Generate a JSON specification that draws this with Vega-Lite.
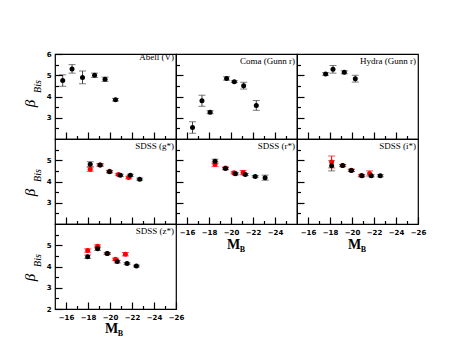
{
"$schema": "https://vega.github.io/schema/vega-lite/v6.json",
"padding": {"left": 21, "top": 49, "right": 0, "bottom": 0},
"background": "white",
"spacing": 0,
"columns": 3,
"bounds": "flush",
"datasets": {"d": [
{"p":"A","s":"k","x":-15.7,"y":4.75,"lo":4.48,"hi":5.02},
{"p":"A","s":"k","x":-16.55,"y":5.3,"lo":5.1,"hi":5.5},
{"p":"A","s":"k","x":-17.5,"y":4.9,"lo":4.6,"hi":5.2},
{"p":"A","s":"k","x":-18.6,"y":5.0,"lo":4.9,"hi":5.1},
{"p":"A","s":"k","x":-19.55,"y":4.81,"lo":4.71,"hi":4.91},
{"p":"A","s":"k","x":-20.5,"y":3.85,"lo":3.79,"hi":3.91},
{"p":"C","s":"k","x":-16.5,"y":2.54,"lo":2.27,"hi":2.81},
{"p":"C","s":"k","x":-17.36,"y":3.8,"lo":3.54,"hi":4.06},
{"p":"C","s":"k","x":-18.1,"y":3.26,"lo":3.19,"hi":3.33},
{"p":"C","s":"k","x":-19.6,"y":4.85,"lo":4.77,"hi":4.93},
{"p":"C","s":"k","x":-20.3,"y":4.7,"lo":4.66,"hi":4.74},
{"p":"C","s":"k","x":-21.15,"y":4.51,"lo":4.35,"hi":4.67},
{"p":"C","s":"k","x":-22.3,"y":3.58,"lo":3.35,"hi":3.81},
{"p":"H","s":"k","x":-17.6,"y":5.06,"lo":5.0,"hi":5.12},
{"p":"H","s":"k","x":-18.27,"y":5.28,"lo":5.1,"hi":5.46},
{"p":"H","s":"k","x":-19.3,"y":5.14,"lo":5.07,"hi":5.21},
{"p":"H","s":"k","x":-20.3,"y":4.84,"lo":4.68,"hi":5.0},
{"p":"G","s":"r","x":-18.2,"y":4.58,"lo":4.48,"hi":4.68},
{"p":"G","s":"r","x":-19.1,"y":4.78,"lo":4.73,"hi":4.83},
{"p":"G","s":"r","x":-19.96,"y":4.48,"lo":4.44,"hi":4.52},
{"p":"G","s":"r","x":-20.76,"y":4.33,"lo":4.29,"hi":4.37},
{"p":"G","s":"r","x":-21.7,"y":4.19,"lo":4.13,"hi":4.25},
{"p":"G","s":"k","x":-18.2,"y":4.81,"lo":4.69,"hi":4.93},
{"p":"G","s":"k","x":-19.1,"y":4.78,"lo":4.72,"hi":4.84},
{"p":"G","s":"k","x":-19.96,"y":4.46,"lo":4.41,"hi":4.51},
{"p":"G","s":"k","x":-20.94,"y":4.29,"lo":4.24,"hi":4.34},
{"p":"G","s":"k","x":-21.85,"y":4.29,"lo":4.24,"hi":4.34},
{"p":"G","s":"k","x":-22.7,"y":4.11,"lo":4.06,"hi":4.16},
{"p":"R","s":"r","x":-18.55,"y":4.81,"lo":4.7,"hi":4.92},
{"p":"R","s":"r","x":-19.5,"y":4.63,"lo":4.58,"hi":4.68},
{"p":"R","s":"r","x":-20.27,"y":4.41,"lo":4.36,"hi":4.46},
{"p":"R","s":"r","x":-21.1,"y":4.42,"lo":4.32,"hi":4.52},
{"p":"R","s":"k","x":-18.55,"y":4.95,"lo":4.85,"hi":5.05},
{"p":"R","s":"k","x":-19.5,"y":4.61,"lo":4.56,"hi":4.66},
{"p":"R","s":"k","x":-20.4,"y":4.36,"lo":4.31,"hi":4.41},
{"p":"R","s":"k","x":-21.3,"y":4.33,"lo":4.28,"hi":4.38},
{"p":"R","s":"k","x":-22.2,"y":4.24,"lo":4.2,"hi":4.28},
{"p":"R","s":"k","x":-23.1,"y":4.18,"lo":4.06,"hi":4.3},
{"p":"I","s":"r","x":-18.15,"y":4.92,"lo":4.64,"hi":5.2},
{"p":"I","s":"r","x":-19.15,"y":4.75,"lo":4.71,"hi":4.79},
{"p":"I","s":"r","x":-19.94,"y":4.53,"lo":4.48,"hi":4.58},
{"p":"I","s":"r","x":-20.85,"y":4.28,"lo":4.24,"hi":4.32},
{"p":"I","s":"r","x":-21.6,"y":4.38,"lo":4.26,"hi":4.5},
{"p":"I","s":"k","x":-18.15,"y":4.74,"lo":4.5,"hi":4.98},
{"p":"I","s":"k","x":-19.15,"y":4.75,"lo":4.7,"hi":4.8},
{"p":"I","s":"k","x":-19.94,"y":4.52,"lo":4.47,"hi":4.57},
{"p":"I","s":"k","x":-20.9,"y":4.27,"lo":4.22,"hi":4.32},
{"p":"I","s":"k","x":-21.75,"y":4.27,"lo":4.22,"hi":4.32},
{"p":"I","s":"k","x":-22.57,"y":4.27,"lo":4.22,"hi":4.32},
{"p":"Z","s":"r","x":-17.97,"y":4.75,"lo":4.67,"hi":4.83},
{"p":"Z","s":"r","x":-18.87,"y":4.95,"lo":4.88,"hi":5.02},
{"p":"Z","s":"r","x":-19.75,"y":4.61,"lo":4.57,"hi":4.65},
{"p":"Z","s":"r","x":-20.5,"y":4.34,"lo":4.29,"hi":4.39},
{"p":"Z","s":"r","x":-21.4,"y":4.58,"lo":4.5,"hi":4.66},
{"p":"Z","s":"k","x":-17.97,"y":4.46,"lo":4.38,"hi":4.54},
{"p":"Z","s":"k","x":-18.87,"y":4.84,"lo":4.76,"hi":4.92},
{"p":"Z","s":"k","x":-19.75,"y":4.61,"lo":4.57,"hi":4.65},
{"p":"Z","s":"k","x":-20.66,"y":4.23,"lo":4.17,"hi":4.29},
{"p":"Z","s":"k","x":-21.55,"y":4.14,"lo":4.1,"hi":4.18},
{"p":"Z","s":"k","x":-22.4,"y":4.02,"lo":3.98,"hi":4.06}
]},
"config": {
 "view": {"stroke": "black", "strokeWidth": 1.2},
 "axis": {"domain": false, "grid": false, "tickOpacity": 1, "labelFont": "DejaVu Sans", "labelFontWeight": "bold", "labelFontSize": 7, "labelColor": "black", "labelFlush": false, "labelOverlap": false, "titleColor": "black", "format": "d"},
 "title": {"anchor": "end", "frame": "group", "offset": -12, "baseline": "alphabetic", "font": "Liberation Serif", "fontSize": 9, "fontWeight": "normal", "color": "black", "dx": -2}
},
"concat": [
{
 "width": 121, "height": 85, "title": "Abell (V)",
 "data": {"name": "d"}, "transform": [{"filter": "datum.p=='A'"}],
 "layer": [
  {"mark": {"type": "rule", "strokeWidth": 1}, "encoding": {
    "x": {"field": "x", "type": "quantitative", "scale": {"domain": [-15, -26]}, "axis": null},
    "y": {"field": "lo", "type": "quantitative", "scale": {"domain": [2, 6]}, "axis": {"orient": "left", "offset": 0, "labels": false, "ticks": false, "title": "Bis", "titleFont": "Liberation Serif", "titleFontStyle": "italic", "titleFontWeight": "normal", "titleFontSize": 10, "titleAngle": 270, "titleX": -15, "titleY": 32, "titleAlign": "center", "titleBaseline": "alphabetic"}},
    "y2": {"field": "hi"},
    "color": {"condition": {"test": "datum.s=='r'", "value": "red"}, "value": "#444"}}},
  {"mark": {"type": "tick", "orient": "horizontal", "size": 7, "thickness": 1}, "encoding": {
    "x": {"field": "x", "type": "quantitative", "axis": {"orient": "bottom", "zindex": 1, "values": [-17,-19,-21,-23,-25], "labels": false, "title": null, "ticks": true, "tickColor": "#000000", "tickWidth": 1.2, "tickSize": -3.5, "offset": 0}},
    "y": {"field": "lo", "type": "quantitative", "axis": {"orient": "left", "zindex": 1, "values": [2.5,3.5,4.5,5.5], "labels": false, "title": null, "ticks": true, "tickColor": "#000000", "tickWidth": 1.2, "tickSize": -3.5, "offset": 0}},
    "color": {"condition": {"test": "datum.s=='r'", "value": "red"}, "value": "#444"}}},
  {"mark": {"type": "tick", "orient": "horizontal", "size": 7, "thickness": 1}, "encoding": {
    "x": {"field": "x", "type": "quantitative", "axis": null},
    "y": {"field": "hi", "type": "quantitative", "axis": {"orient": "left", "offset": 0, "labels": false, "ticks": false, "title": "β", "titleFont": "Liberation Serif", "titleFontStyle": "italic", "titleFontWeight": "normal", "titleFontSize": 15, "titleAngle": 270, "titleX": -21, "titleY": 49, "titleAlign": "center", "titleBaseline": "alphabetic"}},
    "color": {"condition": {"test": "datum.s=='r'", "value": "red"}, "value": "#444"}}},
  {"mark": {"type": "circle", "size": 25, "opacity": 1}, "encoding": {
    "x": {"field": "x", "type": "quantitative", "scale": {"domain": [-15, -26]}, "axis": {"orient": "bottom", "zindex": 1, "values": [-16,-18,-20,-22,-24], "labels": false, "title": null, "ticks": true, "tickColor": "#000000", "tickWidth": 1.2, "tickSize": -7, "offset": 0}},
    "y": {"field": "y", "type": "quantitative", "scale": {"domain": [2, 6]}, "axis": {"orient": "left", "zindex": 1, "values": [3,4,5,6], "title": null, "ticks": true, "tickColor": "#000000", "tickWidth": 1.2, "tickSize": -7, "offset": 0, "labelPadding": 11}},
    "color": {"condition": {"test": "datum.s=='r'", "value": "red"}, "value": "black"}}}
 ],
 "resolve": {"axis": {"x": "independent", "y": "independent"}}
},
{
 "width": 121, "height": 85, "title": "Coma (Gunn r)",
 "data": {"name": "d"}, "transform": [{"filter": "datum.p=='C'"}],
 "layer": [
  {"mark": {"type": "rule", "strokeWidth": 1}, "encoding": {
    "x": {"field": "x", "type": "quantitative", "scale": {"domain": [-15, -26]}, "axis": null},
    "y": {"field": "lo", "type": "quantitative", "scale": {"domain": [2, 6]}, "axis": null},
    "y2": {"field": "hi"},
    "color": {"condition": {"test": "datum.s=='r'", "value": "red"}, "value": "#444"}}},
  {"mark": {"type": "tick", "orient": "horizontal", "size": 7, "thickness": 1}, "encoding": {
    "x": {"field": "x", "type": "quantitative", "axis": {"orient": "bottom", "zindex": 1, "values": [-17,-19,-21,-23,-25], "labels": false, "title": null, "ticks": true, "tickColor": "#000000", "tickWidth": 1.2, "tickSize": -3.5, "offset": 0}},
    "y": {"field": "lo", "type": "quantitative", "axis": {"orient": "left", "zindex": 1, "values": [2.5,3.5,4.5,5.5], "labels": false, "title": null, "ticks": true, "tickColor": "#000000", "tickWidth": 1.2, "tickSize": -3.5, "offset": 0}},
    "color": {"condition": {"test": "datum.s=='r'", "value": "red"}, "value": "#444"}}},
  {"mark": {"type": "tick", "orient": "horizontal", "size": 7, "thickness": 1}, "encoding": {
    "x": {"field": "x", "type": "quantitative", "axis": null},
    "y": {"field": "hi", "type": "quantitative", "axis": null},
    "color": {"condition": {"test": "datum.s=='r'", "value": "red"}, "value": "#444"}}},
  {"mark": {"type": "circle", "size": 25, "opacity": 1}, "encoding": {
    "x": {"field": "x", "type": "quantitative", "scale": {"domain": [-15, -26]}, "axis": {"orient": "bottom", "zindex": 1, "values": [-16,-18,-20,-22,-24], "labels": false, "title": null, "ticks": true, "tickColor": "#000000", "tickWidth": 1.2, "tickSize": -7, "offset": 0}},
    "y": {"field": "y", "type": "quantitative", "scale": {"domain": [2, 6]}, "axis": {"orient": "left", "zindex": 1, "values": [3,4,5], "labels": false, "title": null, "ticks": true, "tickColor": "#000000", "tickWidth": 1.2, "tickSize": -7, "offset": 0}},
    "color": {"condition": {"test": "datum.s=='r'", "value": "red"}, "value": "black"}}}
 ],
 "resolve": {"axis": {"x": "independent", "y": "independent"}}
},
{
 "width": 121, "height": 85, "title": "Hydra (Gunn r)",
 "data": {"name": "d"}, "transform": [{"filter": "datum.p=='H'"}],
 "layer": [
  {"mark": {"type": "rule", "strokeWidth": 1}, "encoding": {
    "x": {"field": "x", "type": "quantitative", "scale": {"domain": [-15, -26]}, "axis": null},
    "y": {"field": "lo", "type": "quantitative", "scale": {"domain": [2, 6]}, "axis": null},
    "y2": {"field": "hi"},
    "color": {"condition": {"test": "datum.s=='r'", "value": "red"}, "value": "#444"}}},
  {"mark": {"type": "tick", "orient": "horizontal", "size": 7, "thickness": 1}, "encoding": {
    "x": {"field": "x", "type": "quantitative", "axis": {"orient": "bottom", "zindex": 1, "values": [-17,-19,-21,-23,-25], "labels": false, "title": null, "ticks": true, "tickColor": "#000000", "tickWidth": 1.2, "tickSize": -3.5, "offset": 0}},
    "y": {"field": "lo", "type": "quantitative", "axis": {"orient": "left", "zindex": 1, "values": [2.5,3.5,4.5,5.5], "labels": false, "title": null, "ticks": true, "tickColor": "#000000", "tickWidth": 1.2, "tickSize": -3.5, "offset": 0}},
    "color": {"condition": {"test": "datum.s=='r'", "value": "red"}, "value": "#444"}}},
  {"mark": {"type": "tick", "orient": "horizontal", "size": 7, "thickness": 1}, "encoding": {
    "x": {"field": "x", "type": "quantitative", "axis": null},
    "y": {"field": "hi", "type": "quantitative", "axis": null},
    "color": {"condition": {"test": "datum.s=='r'", "value": "red"}, "value": "#444"}}},
  {"mark": {"type": "circle", "size": 25, "opacity": 1}, "encoding": {
    "x": {"field": "x", "type": "quantitative", "scale": {"domain": [-15, -26]}, "axis": {"orient": "bottom", "zindex": 1, "values": [-16,-18,-20,-22,-24], "labels": false, "title": null, "ticks": true, "tickColor": "#000000", "tickWidth": 1.2, "tickSize": -7, "offset": 0}},
    "y": {"field": "y", "type": "quantitative", "scale": {"domain": [2, 6]}, "axis": {"orient": "left", "zindex": 1, "values": [3,4,5], "labels": false, "title": null, "ticks": true, "tickColor": "#000000", "tickWidth": 1.2, "tickSize": -7, "offset": 0}},
    "color": {"condition": {"test": "datum.s=='r'", "value": "red"}, "value": "black"}}}
 ],
 "resolve": {"axis": {"x": "independent", "y": "independent"}}
},
{
 "width": 121, "height": 85, "title": "SDSS (g*)",
 "data": {"name": "d"}, "transform": [{"filter": "datum.p=='G'"}],
 "layer": [
  {"mark": {"type": "rule", "strokeWidth": 1}, "encoding": {
    "x": {"field": "x", "type": "quantitative", "scale": {"domain": [-15, -26]}, "axis": null},
    "y": {"field": "lo", "type": "quantitative", "scale": {"domain": [2, 6]}, "axis": {"orient": "left", "offset": 0, "labels": false, "ticks": false, "title": "Bis", "titleFont": "Liberation Serif", "titleFontStyle": "italic", "titleFontWeight": "normal", "titleFontSize": 10, "titleAngle": 270, "titleX": -15, "titleY": 36, "titleAlign": "center", "titleBaseline": "alphabetic"}},
    "y2": {"field": "hi"},
    "color": {"condition": {"test": "datum.s=='r'", "value": "red"}, "value": "#444"}}},
  {"mark": {"type": "tick", "orient": "horizontal", "size": 7, "thickness": 1}, "encoding": {
    "x": {"field": "x", "type": "quantitative", "axis": {"orient": "bottom", "zindex": 1, "values": [-17,-19,-21,-23,-25], "labels": false, "title": null, "ticks": true, "tickColor": "#000000", "tickWidth": 1.2, "tickSize": -3.5, "offset": 0}},
    "y": {"field": "lo", "type": "quantitative", "axis": {"orient": "left", "zindex": 1, "values": [2.5,3.5,4.5,5.5], "labels": false, "title": null, "ticks": true, "tickColor": "#000000", "tickWidth": 1.2, "tickSize": -3.5, "offset": 0}},
    "color": {"condition": {"test": "datum.s=='r'", "value": "red"}, "value": "#444"}}},
  {"mark": {"type": "tick", "orient": "horizontal", "size": 7, "thickness": 1}, "encoding": {
    "x": {"field": "x", "type": "quantitative", "axis": null},
    "y": {"field": "hi", "type": "quantitative", "axis": {"orient": "left", "offset": 0, "labels": false, "ticks": false, "title": "β", "titleFont": "Liberation Serif", "titleFontStyle": "italic", "titleFontWeight": "normal", "titleFontSize": 15, "titleAngle": 270, "titleX": -21, "titleY": 53, "titleAlign": "center", "titleBaseline": "alphabetic"}},
    "color": {"condition": {"test": "datum.s=='r'", "value": "red"}, "value": "#444"}}},
  {"mark": {"type": "circle", "size": 25, "opacity": 1}, "encoding": {
    "x": {"field": "x", "type": "quantitative", "scale": {"domain": [-15, -26]}, "axis": {"orient": "bottom", "zindex": 1, "values": [-16,-18,-20,-22,-24], "labels": false, "title": null, "ticks": true, "tickColor": "#000000", "tickWidth": 1.2, "tickSize": -7, "offset": 0}},
    "y": {"field": "y", "type": "quantitative", "scale": {"domain": [2, 6]}, "axis": {"orient": "left", "zindex": 1, "values": [3,4,5], "title": null, "ticks": true, "tickColor": "#000000", "tickWidth": 1.2, "tickSize": -7, "offset": 0, "labelPadding": 11}},
    "color": {"condition": {"test": "datum.s=='r'", "value": "red"}, "value": "black"}}}
 ],
 "resolve": {"axis": {"x": "independent", "y": "independent"}}
},
{
 "width": 121, "height": 85, "title": "SDSS (r*)",
 "data": {"name": "d"}, "transform": [{"filter": "datum.p=='R'"}],
 "layer": [
  {"mark": {"type": "rule", "strokeWidth": 1}, "encoding": {
    "x": {"field": "x", "type": "quantitative", "scale": {"domain": [-15, -26]}, "axis": {"orient": "bottom", "offset": 0, "labels": false, "ticks": false, "title": "B", "titleFont": "Liberation Serif", "titleFontWeight": "bold", "titleFontSize": 8, "titleX": 66, "titleY": 27, "titleAlign": "center", "titleBaseline": "alphabetic"}},
    "y": {"field": "lo", "type": "quantitative", "scale": {"domain": [2, 6]}, "axis": null},
    "y2": {"field": "hi"},
    "color": {"condition": {"test": "datum.s=='r'", "value": "red"}, "value": "#444"}}},
  {"mark": {"type": "tick", "orient": "horizontal", "size": 7, "thickness": 1}, "encoding": {
    "x": {"field": "x", "type": "quantitative", "axis": {"orient": "bottom", "zindex": 1, "values": [-17,-19,-21,-23,-25], "labels": false, "title": null, "ticks": true, "tickColor": "#000000", "tickWidth": 1.2, "tickSize": -3.5, "offset": 0}},
    "y": {"field": "lo", "type": "quantitative", "axis": {"orient": "left", "zindex": 1, "values": [2.5,3.5,4.5,5.5], "labels": false, "title": null, "ticks": true, "tickColor": "#000000", "tickWidth": 1.2, "tickSize": -3.5, "offset": 0}},
    "color": {"condition": {"test": "datum.s=='r'", "value": "red"}, "value": "#444"}}},
  {"mark": {"type": "tick", "orient": "horizontal", "size": 7, "thickness": 1}, "encoding": {
    "x": {"field": "x", "type": "quantitative", "axis": {"orient": "bottom", "offset": 0, "labels": false, "ticks": false, "title": "M", "titleFont": "Liberation Serif", "titleFontWeight": "bold", "titleFontSize": 14, "titleX": 57, "titleY": 24, "titleAlign": "center", "titleBaseline": "alphabetic"}},
    "y": {"field": "hi", "type": "quantitative", "axis": null},
    "color": {"condition": {"test": "datum.s=='r'", "value": "red"}, "value": "#444"}}},
  {"mark": {"type": "circle", "size": 25, "opacity": 1}, "encoding": {
    "x": {"field": "x", "type": "quantitative", "scale": {"domain": [-15, -26]}, "axis": {"orient": "bottom", "zindex": 1, "values": [-16,-18,-20,-22,-24], "title": null, "ticks": true, "tickColor": "#000000", "tickWidth": 1.2, "tickSize": -7, "offset": 0, "labelPadding": 11}},
    "y": {"field": "y", "type": "quantitative", "scale": {"domain": [2, 6]}, "axis": {"orient": "left", "zindex": 1, "values": [3,4,5], "labels": false, "title": null, "ticks": true, "tickColor": "#000000", "tickWidth": 1.2, "tickSize": -7, "offset": 0}},
    "color": {"condition": {"test": "datum.s=='r'", "value": "red"}, "value": "black"}}}
 ],
 "resolve": {"axis": {"x": "independent", "y": "independent"}}
},
{
 "width": 121, "height": 85, "title": "SDSS (i*)",
 "data": {"name": "d"}, "transform": [{"filter": "datum.p=='I'"}],
 "layer": [
  {"mark": {"type": "rule", "strokeWidth": 1}, "encoding": {
    "x": {"field": "x", "type": "quantitative", "scale": {"domain": [-15, -26]}, "axis": {"orient": "bottom", "offset": 0, "labels": false, "ticks": false, "title": "B", "titleFont": "Liberation Serif", "titleFontWeight": "bold", "titleFontSize": 8, "titleX": 66, "titleY": 27, "titleAlign": "center", "titleBaseline": "alphabetic"}},
    "y": {"field": "lo", "type": "quantitative", "scale": {"domain": [2, 6]}, "axis": null},
    "y2": {"field": "hi"},
    "color": {"condition": {"test": "datum.s=='r'", "value": "red"}, "value": "#444"}}},
  {"mark": {"type": "tick", "orient": "horizontal", "size": 7, "thickness": 1}, "encoding": {
    "x": {"field": "x", "type": "quantitative", "axis": {"orient": "bottom", "zindex": 1, "values": [-17,-19,-21,-23,-25], "labels": false, "title": null, "ticks": true, "tickColor": "#000000", "tickWidth": 1.2, "tickSize": -3.5, "offset": 0}},
    "y": {"field": "lo", "type": "quantitative", "axis": {"orient": "left", "zindex": 1, "values": [2.5,3.5,4.5,5.5], "labels": false, "title": null, "ticks": true, "tickColor": "#000000", "tickWidth": 1.2, "tickSize": -3.5, "offset": 0}},
    "color": {"condition": {"test": "datum.s=='r'", "value": "red"}, "value": "#444"}}},
  {"mark": {"type": "tick", "orient": "horizontal", "size": 7, "thickness": 1}, "encoding": {
    "x": {"field": "x", "type": "quantitative", "axis": {"orient": "bottom", "offset": 0, "labels": false, "ticks": false, "title": "M", "titleFont": "Liberation Serif", "titleFontWeight": "bold", "titleFontSize": 14, "titleX": 57, "titleY": 24, "titleAlign": "center", "titleBaseline": "alphabetic"}},
    "y": {"field": "hi", "type": "quantitative", "axis": null},
    "color": {"condition": {"test": "datum.s=='r'", "value": "red"}, "value": "#444"}}},
  {"mark": {"type": "circle", "size": 25, "opacity": 1}, "encoding": {
    "x": {"field": "x", "type": "quantitative", "scale": {"domain": [-15, -26]}, "axis": {"orient": "bottom", "zindex": 1, "values": [-16,-18,-20,-22,-24,-26], "title": null, "ticks": true, "tickColor": "#000000", "tickWidth": 1.2, "tickSize": -7, "offset": 0, "labelPadding": 11}},
    "y": {"field": "y", "type": "quantitative", "scale": {"domain": [2, 6]}, "axis": {"orient": "left", "zindex": 1, "values": [3,4,5], "labels": false, "title": null, "ticks": true, "tickColor": "#000000", "tickWidth": 1.2, "tickSize": -7, "offset": 0}},
    "color": {"condition": {"test": "datum.s=='r'", "value": "red"}, "value": "black"}}}
 ],
 "resolve": {"axis": {"x": "independent", "y": "independent"}}
},
{
 "width": 121, "height": 85, "title": "SDSS (z*)",
 "data": {"name": "d"}, "transform": [{"filter": "datum.p=='Z'"}],
 "layer": [
  {"mark": {"type": "rule", "strokeWidth": 1}, "encoding": {
    "x": {"field": "x", "type": "quantitative", "scale": {"domain": [-15, -26]}, "axis": {"orient": "bottom", "offset": 0, "labels": false, "ticks": false, "title": "B", "titleFont": "Liberation Serif", "titleFontWeight": "bold", "titleFontSize": 8, "titleX": 65, "titleY": 26, "titleAlign": "center", "titleBaseline": "alphabetic"}},
    "y": {"field": "lo", "type": "quantitative", "scale": {"domain": [2, 6]}, "axis": {"orient": "left", "offset": 0, "labels": false, "ticks": false, "title": "Bis", "titleFont": "Liberation Serif", "titleFontStyle": "italic", "titleFontWeight": "normal", "titleFontSize": 10, "titleAngle": 270, "titleX": -15, "titleY": 36, "titleAlign": "center", "titleBaseline": "alphabetic"}},
    "y2": {"field": "hi"},
    "color": {"condition": {"test": "datum.s=='r'", "value": "red"}, "value": "#444"}}},
  {"mark": {"type": "tick", "orient": "horizontal", "size": 7, "thickness": 1}, "encoding": {
    "x": {"field": "x", "type": "quantitative", "axis": {"orient": "bottom", "zindex": 1, "values": [-17,-19,-21,-23,-25], "labels": false, "title": null, "ticks": true, "tickColor": "#000000", "tickWidth": 1.2, "tickSize": -3.5, "offset": 0}},
    "y": {"field": "lo", "type": "quantitative", "axis": {"orient": "left", "zindex": 1, "values": [2.5,3.5,4.5,5.5], "labels": false, "title": null, "ticks": true, "tickColor": "#000000", "tickWidth": 1.2, "tickSize": -3.5, "offset": 0}},
    "color": {"condition": {"test": "datum.s=='r'", "value": "red"}, "value": "#444"}}},
  {"mark": {"type": "tick", "orient": "horizontal", "size": 7, "thickness": 1}, "encoding": {
    "x": {"field": "x", "type": "quantitative", "axis": {"orient": "bottom", "offset": 0, "labels": false, "ticks": false, "title": "M", "titleFont": "Liberation Serif", "titleFontWeight": "bold", "titleFontSize": 14, "titleX": 56, "titleY": 23, "titleAlign": "center", "titleBaseline": "alphabetic"}},
    "y": {"field": "hi", "type": "quantitative", "axis": {"orient": "left", "offset": 0, "labels": false, "ticks": false, "title": "β", "titleFont": "Liberation Serif", "titleFontStyle": "italic", "titleFontWeight": "normal", "titleFontSize": 15, "titleAngle": 270, "titleX": -21, "titleY": 53, "titleAlign": "center", "titleBaseline": "alphabetic"}},
    "color": {"condition": {"test": "datum.s=='r'", "value": "red"}, "value": "#444"}}},
  {"mark": {"type": "circle", "size": 25, "opacity": 1}, "encoding": {
    "x": {"field": "x", "type": "quantitative", "scale": {"domain": [-15, -26]}, "axis": {"orient": "bottom", "zindex": 1, "values": [-16,-18,-20,-22,-24,-26], "title": null, "ticks": true, "tickColor": "#000000", "tickWidth": 1.2, "tickSize": -7, "offset": 0, "labelPadding": 11}},
    "y": {"field": "y", "type": "quantitative", "scale": {"domain": [2, 6]}, "axis": {"orient": "left", "zindex": 1, "values": [2,3,4,5], "title": null, "ticks": true, "tickColor": "#000000", "tickWidth": 1.2, "tickSize": -7, "offset": 0, "labelPadding": 11}},
    "color": {"condition": {"test": "datum.s=='r'", "value": "red"}, "value": "black"}}}
 ],
 "resolve": {"axis": {"x": "independent", "y": "independent"}}
}
]
}
